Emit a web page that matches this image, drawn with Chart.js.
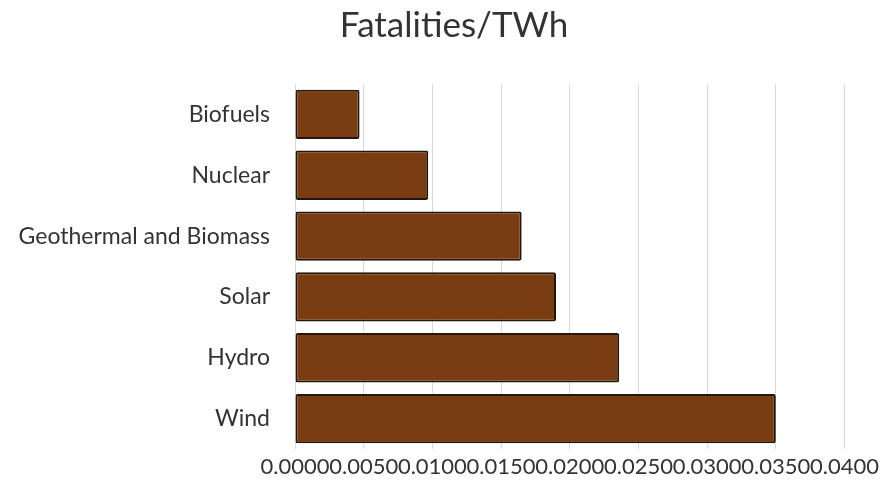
<!DOCTYPE html>
<html>
<head>
<meta charset="utf-8">
<script src="https://cdn.jsdelivr.net/npm/chart.js@4"></script>
<style>
html,body{margin:0;padding:0;background:#fff;}
#wrap{width:884px;height:492px;position:relative;}
</style>
</head>
<body>
<div id="wrap"><canvas id="c" width="884" height="492"></canvas></div>
<script>
const categories = ["Biofuels", "Nuclear", "Geothermal and Biomass", "Solar", "Hydro", "Wind"];
const fatalities = [0.0047, 0.0097, 0.0165, 0.0190, 0.0236, 0.0350];
const xTickMin = 0;
const xTickMax = 0.04;
const xTickStep = 0.005;
const titleText = "Fatalities/TWh";

const titlePlugin = {
  id: 'offsetTitle',
  afterDraw(chart) {
    const ctx = chart.ctx;
    ctx.save();
    ctx.font = 'normal 35px Lato';
    ctx.fillStyle = '#333333';
    ctx.textAlign = 'center';
    ctx.textBaseline = 'middle';
    ctx.fillText(titleText, 454, 26);
    ctx.restore();
  }
};

new Chart(document.getElementById('c'), {
  type: 'bar',
  data: {
    labels: categories,
    datasets: [{
      data: fatalities,
      backgroundColor: '#7a3d12',
      borderColor: '#24160a',
      borderWidth: 2,
      borderSkipped: false,
      borderRadius: 2,
      barPercentage: 0.81,
      categoryPercentage: 1
    }]
  },
  plugins: [titlePlugin],
  options: {
    indexAxis: 'y',
    responsive: false,
    animation: false,
    layout: { padding: { left: 0, right: 36, top: 84, bottom: 0 } },
    plugins: {
      legend: { display: false },
      tooltip: { enabled: false },
      title: { display: false }
    },
    scales: {
      x: {
        min: xTickMin,
        max: xTickMax,
        grid: { color: '#d9d9d9', drawTicks: false, lineWidth: 1 },
        border: { display: false },
        ticks: {
          stepSize: xTickStep,
          autoSkip: false,
          maxRotation: 0,
          minRotation: 0,
          padding: 5,
          color: '#333333',
          font: { family: 'Lato', size: 22 },
          callback: (v) => Number(v).toFixed(4)
        },
        afterFit: (s) => { s.height = 43; }
      },
      y: {
        grid: { display: false, drawTicks: false },
        border: { display: false },
        ticks: {
          padding: 25,
          color: '#333333',
          font: { family: 'Lato', size: 23 }
        },
        afterFit: (s) => { s.width = 295; }
      }
    }
  }
});
</script>
</body>
</html>
